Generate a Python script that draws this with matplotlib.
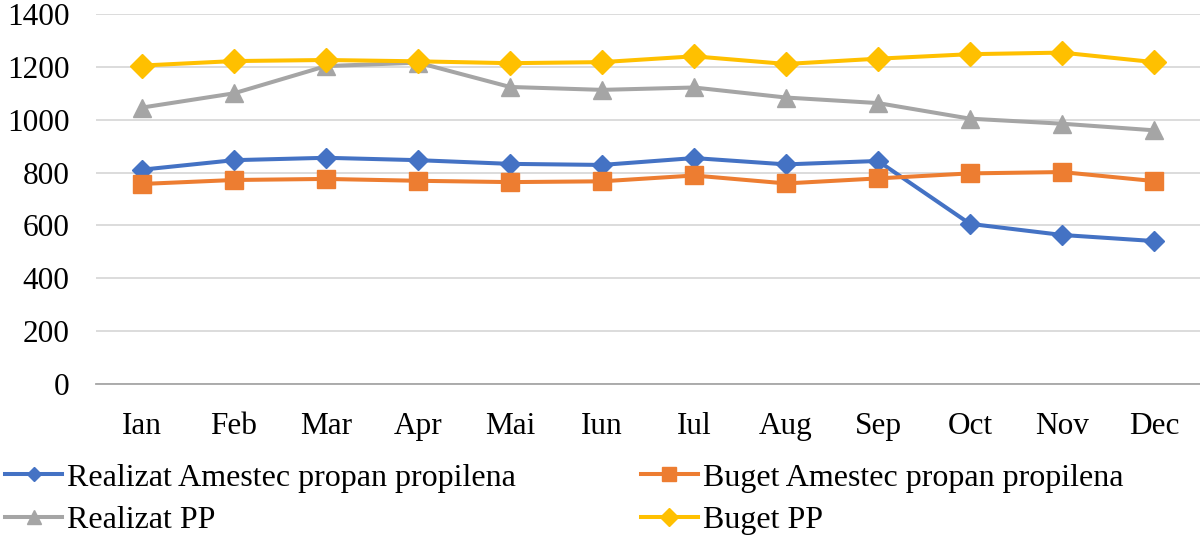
import matplotlib.pyplot as plt
import numpy as np

luni = ["Ian", "Feb", "Mar", "Apr", "Mai", "Iun", "Iul", "Aug", "Sep", "Oct", "Nov", "Dec"]
realizat_amestec = [811, 847, 856, 847, 833, 829, 855, 831, 844, 606, 564, 541]
buget_amestec = [757, 772, 776, 769, 764, 767, 789, 759, 778, 797, 802, 768]
realizat_pp = [1046, 1100, 1203, 1216, 1124, 1113, 1122, 1084, 1063, 1004, 985, 960]
buget_pp = [1205, 1222, 1226, 1221, 1214, 1218, 1240, 1211, 1231, 1248, 1254, 1218]

plt.rcParams['font.family'] = ['Liberation Serif', 'DejaVu Serif']

fig = plt.figure(figsize=(12, 5.35), dpi=100)
ax = fig.add_axes([0.08, 0.2822, 0.92, 0.6916])

x = np.arange(len(luni))
l1, = ax.plot(x, realizat_amestec, color='#4472C4', lw=2.9, marker='D', ms=10,
              label='Realizat Amestec propan propilena')
l2, = ax.plot(x, buget_amestec, color='#ED7D31', lw=2.9, marker='s', ms=12.5,
              label='Buget Amestec propan propilena')
l3, = ax.plot(x, realizat_pp, color='#A5A5A5', lw=2.9, marker='^', ms=13.5,
              label='Realizat PP')
l4, = ax.plot(x, buget_pp, color='#FFC000', lw=2.9, marker='D', ms=12.5,
              label='Buget PP')

ax.set_xlim(-0.5, len(luni) - 0.5)
ax.set_ylim(0, 1400)
ax.set_yticks(range(0, 1401, 200))
ax.set_xticks(x)
ax.set_xticklabels(luni)
ax.tick_params(axis='both', length=0, labelsize=22.5)
ax.tick_params(axis='x', pad=20)
ax.tick_params(axis='y', pad=19)
ax.grid(axis='y', color='#D9D9D9', lw=1.3)
ax.set_axisbelow(True)
for s in ['top', 'right', 'left']:
    ax.spines[s].set_visible(False)
ax.spines['bottom'].set_color('#A6A6A6')
ax.spines['bottom'].set_linewidth(1.3)

# ordinea din legenda: pe randuri, ca in Excel
handles = [l1, l3, l2, l4]
leg = fig.legend(handles=handles, labels=[h.get_label() for h in handles],
                 loc='upper left', bbox_to_anchor=(0.004, 0.134), ncol=2,
                 frameon=False, fontsize=23, handlelength=1.8, handletextpad=0.15,
                 columnspacing=3.9, markerscale=0.75, labelspacing=0.42,
                 borderaxespad=0, borderpad=0)

fig.savefig('out.png', dpi=100)
